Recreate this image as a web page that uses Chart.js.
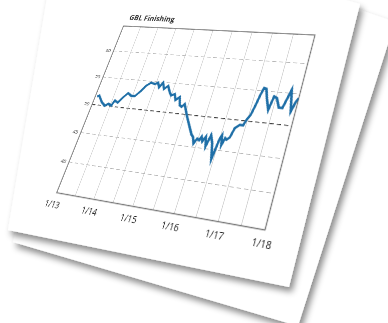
<!DOCTYPE html>
<html>
<head>
<meta charset="utf-8">
<script src="https://cdn.jsdelivr.net/npm/chart.js@4"></script>
<style>
    html, body { margin: 0; width: 388px; height: 323px; overflow: hidden; background: #fff; }
    #paper { position: absolute; left: 0; top: 0; }
    #chart { position: absolute; left: 0; top: 0; transform-origin: 0 0; }
</style>
</head>
<body>
<svg id="paper" width="388" height="323">
    <defs>
        <filter id="shadow" x="-20%" y="-20%" width="140%" height="140%">
            <feDropShadow dx="3" dy="5" stdDeviation="3" flood-color="#000" flood-opacity="0.45"/>
        </filter>
    </defs>
    <polygon points="100,-80 395,22 298,326 13,242" fill="#fff" filter="url(#shadow)"/>
    <polygon points="60,-80 360,4 289,287 8,230" fill="#fff" filter="url(#shadow)"/>
</svg>
<canvas id="chart" width="360" height="340"></canvas>
<script>
    // GBL Finishing index (decimal years)
    const dates = [
        2013.05, 2013.10, 2013.24, 2013.36, 2013.43, 2013.54, 2013.58, 2013.68, 2013.77, 2013.86,
        2013.97, 2014.07, 2014.18, 2014.27, 2014.37, 2014.48, 2014.55, 2014.62, 2014.68, 2014.76,
        2014.84, 2014.93, 2015.00, 2015.08, 2015.15, 2015.23, 2015.30, 2015.36, 2015.41, 2015.57,
        2015.73, 2015.82, 2015.87, 2015.93, 2015.98, 2016.04, 2016.07, 2016.12, 2016.17, 2016.23,
        2016.28, 2016.36, 2016.45, 2016.50, 2016.53, 2016.58, 2016.62, 2016.66, 2016.72, 2016.77,
        2016.86, 2016.94, 2016.98, 2017.04, 2017.09, 2017.13, 2017.17, 2017.23, 2017.30, 2017.40,
        2017.45, 2017.52, 2017.62, 2017.70, 2017.80, 2017.90, 2017.96, 2018.00
    ];
    const gblFinishing = [
        51.5, 51.7, 50.6, 50.0, 50.4, 50.2, 51.1, 50.8, 51.8, 52.6,
        52.2, 52.2, 53.2, 54.2, 54.8, 54.6, 54.9, 54.1, 55.0, 53.9,
        54.5, 53.5, 52.9, 53.2, 52.2, 52.8, 51.4, 51.2, 51.7, 49.7,
        47.9, 46.9, 46.6, 45.6, 46.4, 46.2, 46.8, 46.1, 46.9, 45.4,
        47.2, 46.0, 43.6, 46.8, 47.4, 45.9, 47.0, 46.8, 47.2, 48.7,
        49.3, 49.3, 50.2, 51.0, 52.7, 54.3, 55.5, 55.4, 53.9, 52.1,
        54.3, 54.1, 52.6, 52.6, 55.6, 52.2, 53.8, 54.4
    ];
    const xTickLabels = ["1/13", "1/14", "1/15", "1/16", "1/17", "1/18"];
    const yTickLabels = [40, 45, 50, 55, 60];
    const chartTitle = "GBL Finishing";

    // where the plot frame sits on the tilted sheet (page pixels)
    const quad = [[123.5, 26], [315, 35], [265, 230], [56.7, 192.7]];

    function solve(A, b) {
        const n = b.length;
        for (let i = 0; i < n; i++) {
            let p = i;
            for (let r = i + 1; r < n; r++) if (Math.abs(A[r][i]) > Math.abs(A[p][i])) p = r;
            [A[i], A[p]] = [A[p], A[i]];
            [b[i], b[p]] = [b[p], b[i]];
            for (let r = i + 1; r < n; r++) {
                const f = A[r][i] / A[i][i];
                for (let c = i; c < n; c++) A[r][c] -= f * A[i][c];
                b[r] -= f * b[i];
            }
        }
        const x = new Array(n).fill(0);
        for (let i = n - 1; i >= 0; i--) {
            let s = b[i];
            for (let c = i + 1; c < n; c++) s -= A[i][c] * x[c];
            x[i] = s / A[i][i];
        }
        return x;
    }

    function homography(src, dst) {
        const A = [], b = [];
        for (let i = 0; i < 4; i++) {
            const [x, y] = src[i], [X, Y] = dst[i];
            A.push([x, y, 1, 0, 0, 0, -X * x, -X * y]); b.push(X);
            A.push([0, 0, 0, x, y, 1, -Y * x, -Y * y]); b.push(Y);
        }
        return solve(A, b).concat([1]);
    }

    const framePlugin = {
        id: "frame",
        beforeDatasetsDraw(chart) {
            const { ctx, chartArea: a } = chart;
            ctx.save();
            ctx.strokeStyle = "#777";
            ctx.lineWidth = 1.5;
            ctx.strokeRect(a.left, a.top, a.right - a.left, a.bottom - a.top);
            ctx.restore();
        },
        afterDraw(chart) {
            const { ctx, chartArea: a } = chart;
            ctx.save();
            ctx.font = "bold 12px 'Open Sans'";
            ctx.fillStyle = "#333";
            ctx.textBaseline = "bottom";
            ctx.fillText(chartTitle, a.left + 5, a.top - 8);
            ctx.restore();
        }
    };

    const canvas = document.getElementById("chart");
    const chart = new Chart(canvas, {
        type: "line",
        data: {
            datasets: [{
                data: dates.map((d, i) => ({ x: d, y: gblFinishing[i] })),
                borderColor: "#1f6fa7",
                borderWidth: 3.5,
                pointRadius: 0,
                tension: 0
            }]
        },
        options: {
            responsive: false,
            animation: false,
            layout: { padding: { left: 8, top: 36, right: 20, bottom: 6 } },
            plugins: { legend: { display: false }, tooltip: { enabled: false } },
            scales: {
                x: {
                    type: "linear",
                    min: 2013,
                    max: 2018,
                    border: { display: false },
                    grid: { color: "#cfcfcf", lineWidth: 1, drawTicks: false },
                    ticks: {
                        stepSize: 0.5,
                        padding: 10,
                        autoSkip: false,
                        maxRotation: 0,
                        color: "#222",
                        font: { family: "Open Sans", size: 12 },
                        callback: v => Number.isInteger(v) ? xTickLabels[v - 2013] : ""
                    }
                },
                y: {
                    min: 35,
                    max: 65,
                    border: { display: false, dash: [6, 4] },
                    grid: {
                        color: ctx => ctx.tick && ctx.tick.value === 50 ? "#3a3a3a" : "#b5b5b5",
                        lineWidth: ctx => ctx.tick && ctx.tick.value === 50 ? 1.3 : 1,
                        drawTicks: false
                    },
                    ticks: {
                        stepSize: 5,
                        padding: 5,
                        color: "#333",
                        font: { family: "Open Sans", size: 8 },
                        callback: v => yTickLabels.includes(v) ? String(v) : ""
                    }
                }
            }
        },
        plugins: [framePlugin]
    });

    const a = chart.chartArea;
    const H = homography([[a.left, a.top], [a.right, a.top], [a.right, a.bottom], [a.left, a.bottom]], quad);
    canvas.style.transform = `matrix3d(${H[0]},${H[3]},0,${H[6]},${H[1]},${H[4]},0,${H[7]},0,0,1,0,${H[2]},${H[5]},0,${H[8]})`;
</script>
</body>
</html>
